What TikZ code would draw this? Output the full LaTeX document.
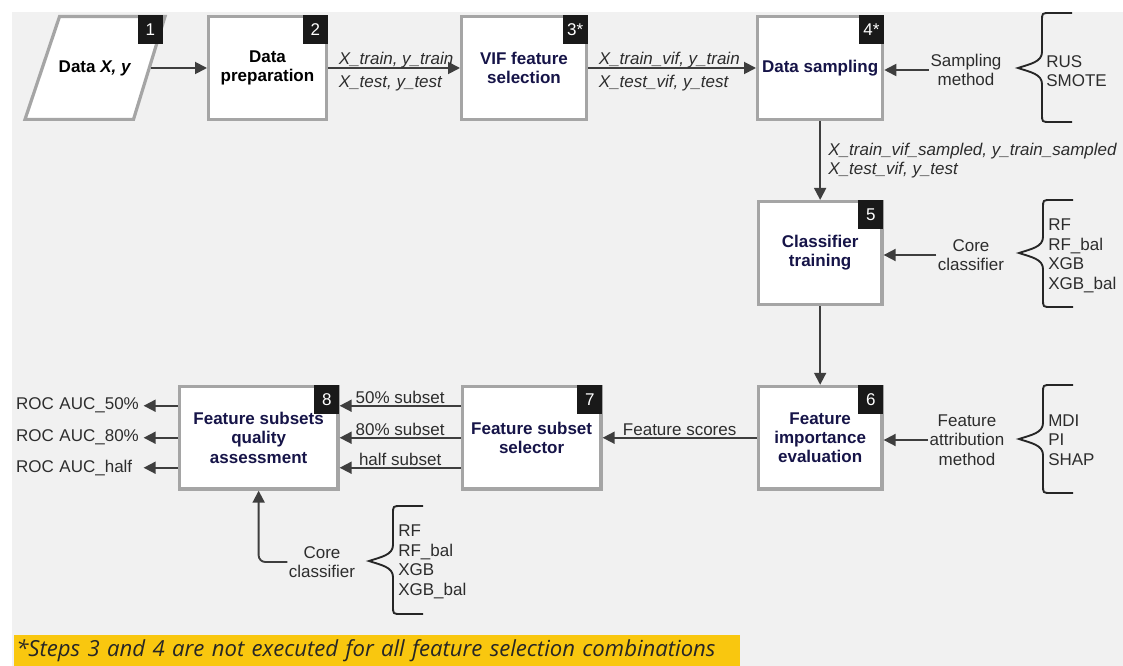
\documentclass[tikz,border=0pt]{standalone}
\usepackage{fontspec}
\setmainfont{Liberation Sans}
\newfontfamily\notefont{Open Sans}
\usetikzlibrary{arrows.meta,positioning,calc}
\definecolor{panelgray}{RGB}{241,241,241}
\definecolor{boxgray}{RGB}{165,165,165}
\definecolor{stepnavy}{RGB}{22,20,72}
\definecolor{linegray}{RGB}{62,62,62}
\definecolor{textgray}{RGB}{45,45,45}
\definecolor{noteyellow}{RGB}{249,199,15}
\tikzset{
  stepbox/.style={draw=boxgray, line width=2.4pt, fill=white, minimum height=77pt, minimum width=92.85pt, align=center, font=\fontsize{12.75}{14.5}\selectfont\bfseries, text=stepnavy},
  dataline/.style={draw=boxgray, line width=2.4pt, fill=white, line join=miter},
  datatext/.style={minimum width=84pt, minimum height=20pt, inner sep=0pt, font=\fontsize{12.75}{14.5}\selectfont\bfseries},
  badge/.style={fill=black!90, text=white, minimum width=18.75pt, minimum height=21.75pt, inner sep=0pt, font=\fontsize{12.75}{14}\selectfont, anchor=north east},
  flow/.style={-{Triangle[length=9pt,width=9pt]}, line width=1.4pt, draw=linegray},
  lbl/.style={font=\fontsize{12.75}{14.5}\selectfont\itshape, text=textgray, inner sep=1.5pt},
  side/.style={font=\fontsize{12.75}{14.5}\selectfont, text=textgray, align=center, inner sep=1pt},
  opts/.style={font=\fontsize{12.75}{14.6}\selectfont, text=textgray, align=left, inner sep=0pt, anchor=west},
  result/.style={font=\fontsize{12.75}{14.5}\selectfont, text=textgray, align=left, text width=94pt, inner sep=1.5pt, anchor=east},
  bracket/.style={line width=1.4pt, draw=black!85}
}
% curly brace in front of an option list: x, top, bottom, tip
\newcommand{\listbrace}[4]{%
  \draw[bracket] ({#1+30},#2) -- ({#1+8},#2) .. controls (#1,#2) .. (#1,{#2+8})
    -- (#1,{#4-16}) .. controls (#1,{#4-6}) and ({#1-12},{#4-4}) .. ({#1-24},#4)
    .. controls ({#1-12},{#4+4}) and (#1,{#4+6}) .. (#1,{#4+16})
    -- (#1,{#3-8}) .. controls (#1,#3) .. ({#1+8},#3) -- ({#1+30},#3);}

\begin{document}
\begin{tikzpicture}[x=0.75pt, y=-0.75pt]
\useasboundingbox (0,0) rectangle (1123,666);
\fill[white] (0,0) rectangle (1123,666);
\fill[panelgray] (12,12) rectangle (1123,666);

% input data
\draw[dataline] (25,119.4) -- (59.5,16.6) -- (165,16.6) -- (133.5,119.4) -- cycle;
\node[datatext] (data) at (95,68) {Data \textit{X, y}};

% main steps
\node[stepbox, minimum width=88.35pt, text=black] (prep) at (267.5,68) {Data\\preparation};
\node[stepbox, minimum width=93.6pt, right=99pt of prep] (vif) {VIF feature\\selection};
\node[stepbox, right=126pt of vif] (samp) {Data sampling};
\node[stepbox, below=59.25pt of samp] (clf) {Classifier\\training};
\node[stepbox, below=59.25pt of clf] (imp) {Feature\\importance\\evaluation};
\node[stepbox, minimum width=104.1pt, left=115.5pt of imp] (sel) {Feature subset\\selector};
\node[stepbox, minimum width=119.1pt, left=90.75pt of sel] (qa) {Feature subsets\\quality\\assessment};

% step numbers
\node[badge] (n1) at (163,15) {1};
\node[badge] (n2) at (prep.north east) {2};
\node[badge] (n3) at (vif.north east) {3*};
\node[badge] (n4) at (samp.north east) {4*};
\node[badge] (n5) at (clf.north east) {5};
\node[badge] (n6) at (imp.north east) {6};
\node[badge] (n7) at (sel.north east) {7};
\node[badge] (n8) at (qa.north east) {8};

% data flow
\draw[flow] (data) -- (prep);
\draw[flow] (prep) -- node[lbl, pos=0, anchor=south west, xshift=6pt, yshift=-2pt]{X\_train, y\_train} node[lbl, pos=0, anchor=north west, xshift=6pt, yshift=-3.5pt]{X\_test, y\_test} (vif);
\draw[flow] (vif) -- node[lbl, pos=0, anchor=south west, xshift=6pt, yshift=-2pt]{X\_train\_vif, y\_train} node[lbl, pos=0, anchor=north west, xshift=6pt, yshift=-3.5pt]{X\_test\_vif, y\_test} (samp);
\draw[flow] (samp) -- node[lbl, right, align=left, xshift=4pt]{X\_train\_vif\_sampled, y\_train\_sampled\\X\_test\_vif, y\_test} (clf);
\draw[flow] (clf) -- (imp);
\draw[flow] (imp) -- node[side, above]{Feature scores} (sel);
\draw[flow] ([yshift=24pt]sel.west) -- node[side, above]{50\% subset} ([yshift=24pt]qa.east);
\draw[flow] (sel.west) -- node[side, above]{80\% subset} (qa.east);
\draw[flow] ([yshift=-22.5pt]sel.west) -- node[side, above]{half subset} ([yshift=-22.5pt]qa.east);

% outputs
\node[result] (roc50) at ([xshift=-25.5pt,yshift=24pt]qa.west) {ROC AUC\_50\%};
\node[result] (roc80) at ([xshift=-25.5pt]qa.west) {ROC AUC\_80\%};
\node[result] (rochalf) at ([xshift=-25.5pt,yshift=-22.5pt]qa.west) {ROC AUC\_half};
\draw[flow] ([yshift=24pt]qa.west) -- (roc50);
\draw[flow] (qa.west) -- (roc80);
\draw[flow] ([yshift=-22.5pt]qa.west) -- (rochalf);

% side inputs
\node[side] (smeth) at (966,70) {Sampling\\method};
\draw[flow] (smeth.west) -- (smeth.west -| samp.east);
\node[opts] (smopts) at (1046,71) {RUS\\SMOTE};
\listbrace{1042}{13}{122}{68}

\node[side] (ccore) at (971,255) {Core\\classifier};
\draw[flow] (ccore.west) -- (ccore.west -| clf.east);
\node[opts] (clfopts) at (1048,256) {RF\\RF\_bal\\XGB\\XGB\_bal};
\listbrace{1043}{200}{307}{253}

\node[side] (attr) at (967,440) {Feature\\attribution\\method};
\draw[flow] (attr.west) -- (attr.west -| imp.east);
\node[opts] (attropts) at (1048,440) {MDI\\PI\\SHAP};
\listbrace{1043}{385}{493}{439}

\node[side] (qcore) at (322,562) {Core\\classifier};
\draw[flow, rounded corners=5pt] (qcore.west) -| (qa.south);
\node[opts] (qaopts) at (398,562) {RF\\RF\_bal\\XGB\\XGB\_bal};
\listbrace{393}{506}{614}{561}

% footnote
\node[anchor=south west, fill=noteyellow, inner sep=1.5pt, text width=541.5pt, minimum height=23.25pt, align=left, text=black!85, font=\notefont\itshape\fontsize{16.6}{19}\selectfont] (note) at (14,666) {*Steps 3 and 4 are not executed for all feature selection combinations};
\end{tikzpicture}
\end{document}
